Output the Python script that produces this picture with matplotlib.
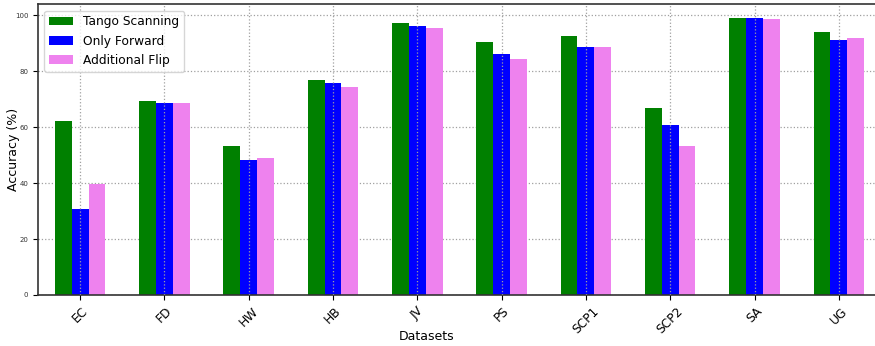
import matplotlib
matplotlib.use("Agg")
import matplotlib.pyplot as plt
import numpy as np

datasets = ["EC", "FD", "HW", "HB", "JV", "PS", "SCP1", "SCP2", "SA", "UG"]
tango = [62.1, 69.3, 53.2, 76.8, 97.1, 90.4, 92.5, 66.8, 98.9, 93.9]
forward = [30.7, 68.6, 48.2, 75.7, 96.1, 86.1, 88.6, 60.7, 98.9, 91.1]
flip = [39.7, 68.6, 48.9, 74.3, 95.4, 84.3, 88.6, 53.2, 98.6, 91.8]
series_names = ["Tango Scanning", "Only Forward", "Additional Flip"]
colors = ["green", "blue", "violet"]

fig = plt.figure(figsize=(8.75, 3.46), dpi=100)
ax = fig.add_axes([0.0434, 0.1474, 0.9634, 0.8396])
x = np.arange(len(datasets))
w = 0.2
for i, (vals, name, c) in enumerate(zip([tango, forward, flip], series_names, colors)):
    ax.bar(x + (i - 1) * w, vals, w, label=name, color=c)

ax.set_xlim(-0.5, len(datasets) - 0.5)
ax.set_xticks(x)
ax.set_xticklabels(datasets, rotation=45, fontsize=8.8)
ax.set_yticks([0, 20, 40, 60, 80, 100])
ax.tick_params(axis='y', labelsize=5, labelcolor='#333333')
ax.set_ylabel("Accuracy (%)", fontsize=9)
ax.set_xlabel("Datasets", fontsize=9)
ax.yaxis.set_label_coords(-0.021, 0.5)
ax.xaxis.set_label_coords(0.4615, -0.122)
ax.grid(True, linestyle=':', color='#a0a0a0', linewidth=0.9)
ax.set_axisbelow(True)
ax.xaxis.set_zorder(2.5)
for s in ax.spines.values():
    s.set_color('#333333')
    s.set_linewidth(1.2)
ax.legend(loc='upper left', fontsize=8.8)
fig.savefig("out.png", dpi=100)
